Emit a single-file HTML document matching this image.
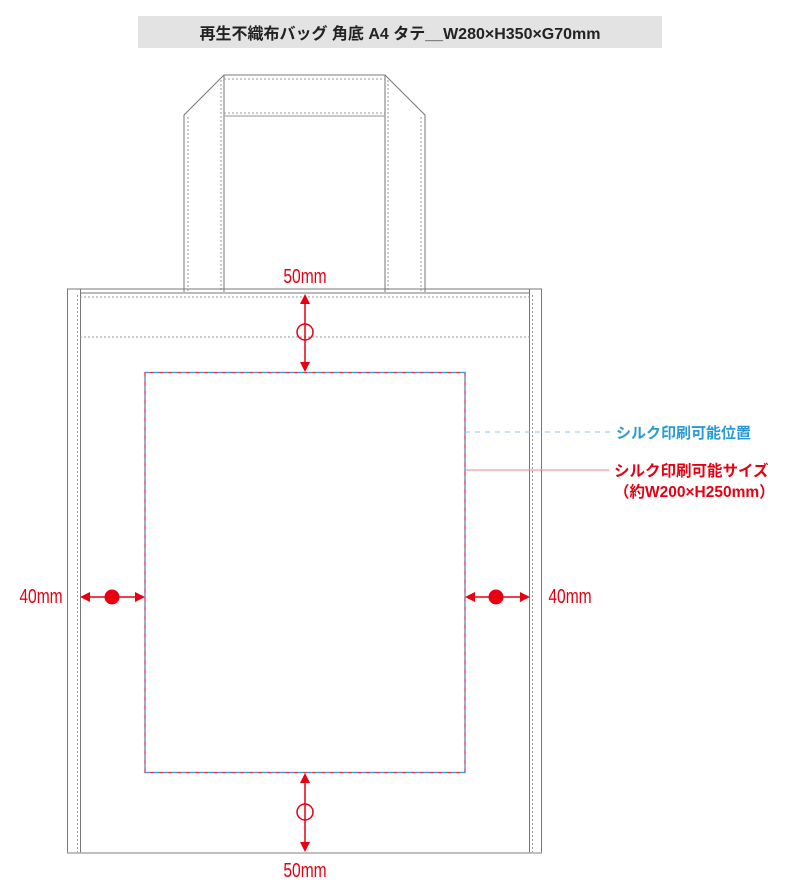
<!DOCTYPE html>
<html><head><meta charset="utf-8"><style>
body{margin:0;background:#fff;width:800px;height:896px;overflow:hidden}
svg{display:block}
</style></head><body>
<svg width="800" height="896" viewBox="0 0 800 896" xmlns="http://www.w3.org/2000/svg">
<rect x="138" y="16" width="524" height="32" fill="#e3e3e3"/>
<text x="400" y="39" text-anchor="middle" font-family="Liberation Sans, Noto Sans CJK JP, sans-serif" font-size="16" font-weight="bold" fill="#222">再生不織布バッグ 角底 A4 タテ__W280×H350×G70mm</text>
<g fill="none" stroke="#777" stroke-width="1">
<polyline points="184,292 184,115 224,75 385,75 425,115 425,292"/>
<line x1="224" y1="75" x2="224" y2="292"/>
<line x1="385" y1="75" x2="385" y2="292"/>
<line x1="224" y1="116" x2="385" y2="116" stroke="#aaa" stroke-width="1.2"/>
<g stroke-dasharray="2,2" stroke="#999">
<line x1="224" y1="113" x2="385" y2="113"/>
<line x1="224" y1="79" x2="385" y2="79"/>
<line x1="188" y1="117" x2="188" y2="292"/>
<line x1="221" y1="80" x2="221" y2="292"/>
<line x1="388" y1="80" x2="388" y2="292"/>
<line x1="421" y1="117" x2="421" y2="292"/>
</g>
<rect x="67.5" y="289" width="474" height="564"/>
<line x1="80.5" y1="289" x2="80.5" y2="853"/>
<line x1="529.5" y1="289" x2="529.5" y2="853"/>
<line x1="80" y1="293" x2="530" y2="293"/>
<line x1="67" y1="853" x2="542" y2="853" stroke="#aaa" stroke-width="1.5"/>
<g stroke-dasharray="2,2" stroke="#999">
<line x1="80" y1="297" x2="530" y2="297"/>
<line x1="80" y1="337" x2="530" y2="337"/>
<line x1="77.5" y1="295" x2="77.5" y2="852"/>
<line x1="532.5" y1="295" x2="532.5" y2="852"/>
</g>
</g>
<rect x="145" y="372.5" width="320" height="400" fill="none" stroke="#e8304a" stroke-width="1.3"/>
<rect x="145" y="372.5" width="320" height="400" fill="none" stroke="#3a9ad9" stroke-width="1" stroke-dasharray="5,4"/>
<line x1="465" y1="432" x2="610" y2="432" stroke="#8cc8e8" stroke-width="1" stroke-dasharray="5,5"/>
<line x1="465" y1="470" x2="609" y2="470" stroke="#f08090" stroke-width="1"/>
<g font-family="Liberation Sans, Noto Sans CJK JP, sans-serif" font-weight="bold" font-size="15">
<text x="616" y="438" fill="#2a9ad6">シルク印刷可能位置</text>
<text x="614" y="476" fill="#e60012" font-size="15.5">シルク印刷可能サイズ</text>
<text x="614" y="497" fill="#e60012" font-size="15.5">（約W200×H250mm）</text>
</g>
<g stroke="#e60012" stroke-width="1.5" fill="none">
<line x1="305" y1="300" x2="305" y2="366"/>
<circle cx="305" cy="332" r="8"/>
<line x1="305" y1="779" x2="305" y2="846"/>
<circle cx="305" cy="812" r="8"/>
<line x1="86" y1="597" x2="140" y2="597"/>
<line x1="470" y1="597" x2="524" y2="597"/>
</g>
<g fill="#e60012">
<polygon points="305,294 300,304 310,304"/>
<polygon points="305,372 300,362 310,362"/>
<polygon points="305,773 300,783 310,783"/>
<polygon points="305,852 300,842 310,842"/>
<polygon points="80,597 90,592 90,602"/>
<polygon points="145,597 135,592 135,602"/>
<polygon points="465,597 475,592 475,602"/>
<polygon points="530,597 520,592 520,602"/>
<circle cx="112" cy="597" r="7.5"/>
<circle cx="496" cy="597" r="7.5"/>
</g>
<g font-family="Liberation Sans, sans-serif" font-size="20" fill="#e60012" text-anchor="middle">
<text transform="translate(305,283) scale(0.78,1)">50mm</text>
<text transform="translate(305,877) scale(0.78,1)">50mm</text>
<text transform="translate(41,603) scale(0.78,1)">40mm</text>
<text transform="translate(570,603) scale(0.78,1)">40mm</text>
</g>
</svg>
</body></html>
